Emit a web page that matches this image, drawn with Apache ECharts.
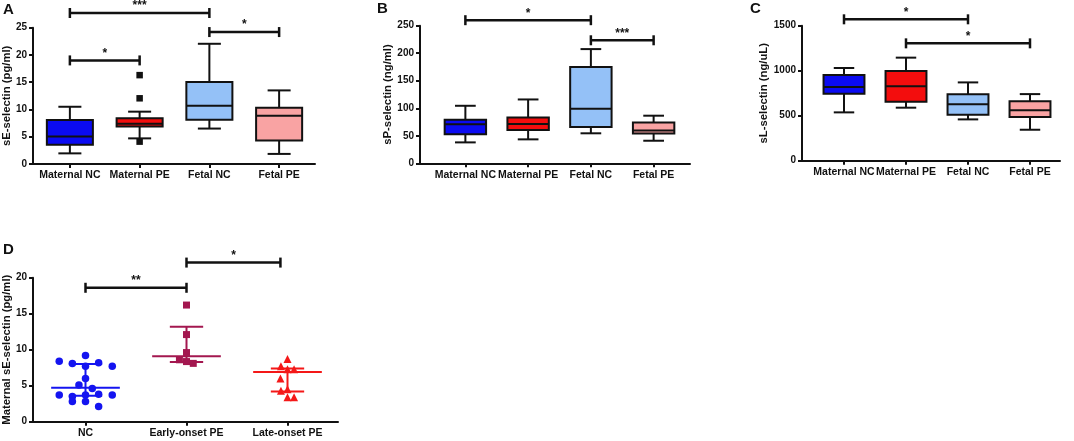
<!DOCTYPE html>
<html>
<head>
<meta charset="utf-8">
<script src="https://cdn.jsdelivr.net/npm/echarts@6/dist/echarts.min.js"></script>
<style>
  html, body { margin: 0; padding: 0; background: #fff; }
  #chart { width: 1074px; height: 441px; }
</style>
</head>
<body>
<div id="chart"></div>
<script>
// categories
const catsTop = ['Maternal NC', 'Maternal PE', 'Fetal NC', 'Fetal PE'];
const catsD = ['NC', 'Early-onset PE', 'Late-onset PE'];

// box plots: [low whisker, Q1, median, Q3, high whisker]
const boxA = [
  [1.95, 3.55, 5.05, 8.05, 10.5],
  [4.7, 6.9, 7.4, 8.4, 9.6],
  [6.5, 8.1, 10.7, 15.05, 22.05],
  [1.85, 4.3, 8.85, 10.3, 13.5]
];
const outliersA = [[1, 16.3], [1, 12.05], [1, 4.1]];
const boxB = [
  [38, 53, 71, 79, 104.5],
  [43.5, 60.5, 71.5, 83, 116],
  [54.5, 66, 99, 175, 207.5],
  [41, 54, 59.5, 74, 86.5]
];
const boxC = [
  [537, 744, 820, 952, 1030],
  [589, 656, 828, 996, 1145],
  [459, 511, 626, 737, 870],
  [344, 485, 560, 660, 740]
];

// significance brackets: [from category, to category, height, label]
const sigA = [[0, 2, 27.7, '***'], [0, 1, 19.0, '*'], [2, 3, 24.2, '*']];
const sigB = [[0, 2, 260, '*'], [2, 3, 223.5, '***']];
const sigC = [[0, 2, 1571, '*'], [1, 3, 1304, '*']];
const sigD = [[0, 1, 18.6, '**'], [1, 1.93, 22.1, '*']];

// panel D points: [group position (with jitter), value]
const pointsNC = [
  [-0.26, 8.4], [-0.13, 8.1], [0, 9.2], [0.13, 8.2], [0.265, 7.7],
  [0, 7.7], [0, 6.0], [-0.065, 5.1], [0.067, 4.6],
  [-0.26, 3.7], [-0.13, 3.5], [0, 3.7], [0.13, 3.8], [0.265, 3.7],
  [-0.13, 2.8], [0, 2.8], [0.13, 2.1]
];
const pointsEarly = [[1, 16.2], [1, 12.1], [1, 9.6], [0.93, 8.6], [1, 8.35], [1.067, 8.1]];
const pointsLate = [
  [2, 8.7], [1.935, 7.7], [2, 7.3], [2.065, 7.3], [1.93, 6.0],
  [1.935, 4.3], [2, 4.5], [2, 3.4], [2.065, 3.4]
];
// panel D: [group, lower bar, median, upper bar]
const spreadD = [[0, 3.6, 4.7, 8.0], [1, 8.3, 9.1, 13.2], [2, 4.2, 6.9, 7.4]];

const FONT = 'Liberation Sans, Arial, sans-serif';
const INK = '#111';
const boxFills = ['#0b0bf2', '#f30d0d', '#94c1f7', '#f9a3a3'];
const dColors = ['#1414f0', '#a3174f', '#f41818'];

const grid = [];
const xAxis = [];
const yAxis = [];
const series = [];

function addPanel(p) {
  const g = grid.length;
  grid.push({ left: p.outer[0], top: p.top, width: p.outer[1], height: p.height });
  grid.push({ left: p.inner[0], top: p.top, width: p.inner[1], height: p.height });
  const xi = xAxis.length;
  const yi = yAxis.length;
  const lineStyle = { color: INK, width: 2 };
  // outer grid: only the x axis line
  xAxis.push({
    gridIndex: g, type: 'value', min: 0, max: 1,
    axisLine: { show: true, lineStyle: lineStyle },
    axisTick: { show: false }, axisLabel: { show: false }, splitLine: { show: false }
  });
  // inner grid: category labels and ticks
  xAxis.push({
    gridIndex: g + 1, type: 'category', data: p.cats,
    axisLine: { show: false },
    axisTick: { show: true, alignWithLabel: true, length: 4, lineStyle: lineStyle },
    axisLabel: { color: INK, fontFamily: FONT, fontWeight: 'bold', fontSize: 10.5, margin: 6, interval: 0 }
  });
  // inner grid: numeric positions for the marks
  xAxis.push({ gridIndex: g + 1, type: 'value', min: -0.5, max: p.cats.length - 0.5, show: false });
  yAxis.push({
    gridIndex: g, type: 'value', min: 0, max: p.max, interval: p.step,
    name: p.name, nameLocation: 'middle', nameGap: p.nameGap,
    nameTextStyle: { color: INK, fontFamily: FONT, fontWeight: 'bold', fontSize: 11.3 },
    axisLine: { show: true, lineStyle: lineStyle },
    axisTick: { show: true, length: 4, lineStyle: lineStyle },
    axisLabel: {
      color: INK, fontFamily: FONT, fontWeight: 'bold', fontSize: 10, margin: 6,
      formatter: v => String(v)
    },
    splitLine: { show: false }
  });
  yAxis.push({ gridIndex: g + 1, type: 'value', min: 0, max: p.max, show: false });
  return { xAxisIndex: xi + 2, yAxisIndex: yi + 1 };
}

function renderBox(params, api) {
  const x = api.value(0);
  const lo = api.coord([x, api.value(1)]);
  const q1 = api.coord([x, api.value(2)]);
  const md = api.coord([x, api.value(3)]);
  const q3 = api.coord([x, api.value(4)]);
  const hi = api.coord([x, api.value(5)]);
  const band = api.size([1, 0])[0];
  const half = band * 0.33;
  const cap = half / 2;
  const cx = lo[0];
  const st = { stroke: INK, lineWidth: 2 };
  return {
    type: 'group',
    children: [
      { type: 'line', shape: { x1: cx, y1: hi[1], x2: cx, y2: lo[1] }, style: st },
      { type: 'line', shape: { x1: cx - cap, y1: hi[1], x2: cx + cap, y2: hi[1] }, style: st },
      { type: 'line', shape: { x1: cx - cap, y1: lo[1], x2: cx + cap, y2: lo[1] }, style: st },
      {
        type: 'rect',
        shape: { x: cx - half, y: q3[1], width: half * 2, height: q1[1] - q3[1] },
        style: { fill: api.visual('color'), stroke: INK, lineWidth: 2 }
      },
      { type: 'line', shape: { x1: cx - half, y1: md[1], x2: cx + half, y2: md[1] }, style: st }
    ]
  };
}

function sigRenderer(list) {
  return function (params, api) {
    const y = api.value(2);
    const a = api.coord([api.value(0), y]);
    const b = api.coord([api.value(1), y]);
    const st = { stroke: INK, lineWidth: 2.5 };
    return {
      type: 'group',
      children: [
        { type: 'line', shape: { x1: a[0], y1: a[1], x2: b[0], y2: b[1] }, style: st },
        { type: 'line', shape: { x1: a[0], y1: a[1] - 5, x2: a[0], y2: a[1] + 5 }, style: st },
        { type: 'line', shape: { x1: b[0], y1: b[1] - 5, x2: b[0], y2: b[1] + 5 }, style: st },
        {
          type: 'text', x: (a[0] + b[0]) / 2, y: a[1] - 1,
          style: {
            text: list[params.dataIndex][3], fill: INK, align: 'center', verticalAlign: 'bottom',
            fontFamily: FONT, fontWeight: 'bold', fontSize: 12
          }
        }
      ]
    };
  };
}

function renderSpread(params, api) {
  const x = api.value(0);
  const lo = api.coord([x, api.value(1)]);
  const md = api.coord([x, api.value(2)]);
  const hi = api.coord([x, api.value(3)]);
  const band = api.size([1, 0])[0];
  const cap = band * 0.165;
  const mid = band * 0.34;
  const cx = lo[0];
  const st = { stroke: api.visual('color'), lineWidth: 2 };
  return {
    type: 'group',
    children: [
      { type: 'line', shape: { x1: cx, y1: hi[1], x2: cx, y2: lo[1] }, style: st },
      { type: 'line', shape: { x1: cx - cap, y1: hi[1], x2: cx + cap, y2: hi[1] }, style: st },
      { type: 'line', shape: { x1: cx - cap, y1: lo[1], x2: cx + cap, y2: lo[1] }, style: st },
      { type: 'line', shape: { x1: cx - mid, y1: md[1], x2: cx + mid, y2: md[1] }, style: st }
    ]
  };
}

function addBoxes(ax, boxes) {
  series.push({
    type: 'custom', clip: false, ...ax,
    renderItem: renderBox,
    encode: { x: 0, y: [1, 2, 3, 4, 5] },
    data: boxes.map((b, i) => ({ value: [i].concat(b), itemStyle: { color: boxFills[i] } }))
  });
}

function addSig(ax, list) {
  series.push({
    type: 'custom', clip: false, ...ax,
    renderItem: sigRenderer(list),
    encode: { x: [0, 1], y: 2 },
    data: list.map(s => [s[0], s[1], s[2]])
  });
}

function addPoints(ax, symbol, size, color, data) {
  series.push({
    type: 'scatter', ...ax, symbol: symbol, symbolSize: size,
    itemStyle: { color: color, opacity: 1 }, data: data
  });
}

// panel A
const axA = addPanel({
  outer: [32, 283], inner: [35, 279], top: 27.7, height: 136.3,
  cats: catsTop, max: 25, step: 5, name: 'sE-selectin (pg/ml)', nameGap: 18.5
});
addBoxes(axA, boxA);
addPoints(axA, 'rect', 6.5, INK, outliersA);
addSig(axA, sigA);

// panel B
const axB = addPanel({
  outer: [420, 270], inner: [434, 251], top: 25.7, height: 137.6,
  cats: catsTop, max: 250, step: 50, name: 'sP-selectin (ng/ml)', nameGap: 23
});
addBoxes(axB, boxB);
addSig(axB, sigB);

// panel C
const axC = addPanel({
  outer: [802, 258], inner: [813, 248], top: 25.7, height: 135,
  cats: catsTop, max: 1500, step: 500, name: 'sL-selectin (ng/uL)', nameGap: 30
});
addBoxes(axC, boxC);
addSig(axC, sigC);

// panel D
const axD = addPanel({
  outer: [33, 305], inner: [35, 303], top: 277.7, height: 144,
  cats: catsD, max: 20, step: 5, name: 'Maternal sE-selectin (pg/ml)', nameGap: 20
});
series.push({
  type: 'custom', clip: false, ...axD,
  renderItem: renderSpread,
  encode: { x: 0, y: [1, 2, 3] },
  data: spreadD.map((s, i) => ({ value: s, itemStyle: { color: dColors[i] } }))
});
addPoints(axD, 'circle', 7.5, dColors[0], pointsNC);
addPoints(axD, 'rect', 7, dColors[1], pointsEarly);
addPoints(axD, 'triangle', 8, dColors[2], pointsLate);
addSig(axD, sigD);

const letters = [['A', 3, 2], ['B', 377, 1], ['C', 750, 1], ['D', 3, 242]];

const chart = echarts.init(document.getElementById('chart'));
chart.setOption({
  animation: false,
  backgroundColor: '#fff',
  title: letters.map(l => ({
    text: l[0], left: l[1], top: l[2], padding: 0,
    textStyle: { color: INK, fontFamily: FONT, fontWeight: 'bold', fontSize: 15 }
  })),
  grid: grid,
  xAxis: xAxis,
  yAxis: yAxis,
  series: series
});
</script>
</body>
</html>
